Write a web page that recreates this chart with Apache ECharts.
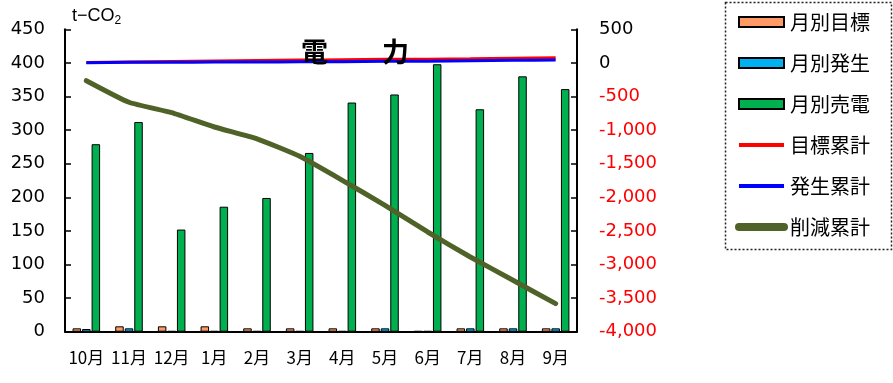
<!DOCTYPE html>
<html>
<head>
<meta charset="utf-8">
<script src="https://cdn.jsdelivr.net/npm/echarts@6/dist/echarts.min.js"></script>
<style>
  html, body { margin: 0; padding: 0; background: #fff; }
  #chart { width: 893px; height: 383px; }
</style>
</head>
<body>
<div id="chart"></div>
<script>
// Months of the fiscal year (October to September)
const categories = ['10月', '11月', '12月', '1月', '2月', '3月', '4月', '5月', '6月', '7月', '8月', '9月'];

// Monthly values, t-CO2 (left axis)
const monthlyTarget = [5, 8, 8, 8, 5, 5, 5, 5, 1, 5, 5, 5];
const monthlyGeneration = [4, 5, 1, 1, 1, 1, 1, 5, 1, 5, 5, 5];
const monthlySold = [279, 312, 152, 186, 199, 266, 341, 353, 398, 331, 380, 361];

// Cumulative values, t-CO2 (right axis)
const cumTarget = [5, 13, 21, 30, 36, 42, 48, 54, 56, 62, 70, 78];
const cumGeneration = [4, 9, 10, 12, 14, 16, 18, 24, 26, 32, 38, 44];
const cumReduction = [-265, -586, -740, -954, -1130, -1390, -1747, -2119, -2516, -2888, -3235, -3582];

// Axis ranges
const leftAxis = { min: 0, max: 450, interval: 50 };
const rightAxis = { min: -4000, max: 500, interval: 500 };

const FONT_NUM = 'DejaVu Sans';
const FONT_JP = 'Noto Sans CJK JP';

const chart = echarts.init(document.getElementById('chart'), null, { renderer: 'canvas' });

const barBorder = { borderColor: '#000', borderWidth: 1 };
// line legend entries: hide the marker dot, keep only the stroke
const noMarker = { color: 'rgba(0,0,0,0)', borderColor: 'rgba(0,0,0,0)', borderWidth: 0 };

chart.setOption({
  animation: false,
  backgroundColor: '#fff',
  title: {
    text: '電　　力',
    left: 350,
    top: 33,
    textAlign: 'center',
    textStyle: { fontFamily: FONT_JP, fontSize: 27, fontWeight: 'bold', color: '#000' }
  },
  grid: { left: 65, right: 316, top: 29.3, bottom: 51.3 },
  legend: {
    orient: 'vertical',
    left: 735,
    top: 12,
    padding: 0,
    itemWidth: 45,
    itemHeight: 10,
    itemGap: 21,
    selectedMode: false,
    textStyle: { fontFamily: FONT_JP, fontSize: 20, color: '#000', padding: [0, 0, 0, 1] },
    data: [
      { name: '月別目標', icon: 'rect' },
      { name: '月別発生', icon: 'rect' },
      { name: '月別売電', icon: 'rect' },
      { name: '目標累計', lineStyle: { width: 4 }, itemStyle: noMarker },
      { name: '発生累計', lineStyle: { width: 4 }, itemStyle: noMarker },
      { name: '削減累計', lineStyle: { width: 8, cap: 'round' }, itemStyle: noMarker }
    ]
  },
  graphic: [
    {
      type: 'rect',
      shape: { x: 725.5, y: 2.5, width: 166, height: 247 },
      style: { fill: 'none', stroke: '#222', lineWidth: 1.5, lineDash: [2, 2] },
      silent: true
    },
    {
      type: 'text',
      left: 72,
      top: 7,
      style: {
        text: '{a|t−CO}{b|2}',
        rich: {
          a: { fontFamily: 'Liberation Sans', fontSize: 18, color: '#000' },
          b: { fontFamily: 'Liberation Sans', fontSize: 12, color: '#000', padding: [10, 0, 0, 0] }
        }
      }
    }
  ],
  xAxis: {
    type: 'category',
    data: categories,
    axisLine: { lineStyle: { color: '#000', width: 2 } },
    axisTick: { inside: true, length: 5, lineStyle: { color: '#000', width: 1.5 } },
    axisLabel: { interval: 0, fontFamily: FONT_JP, fontSize: 17, color: '#000', margin: 17 }
  },
  yAxis: [
    {
      type: 'value',
      min: leftAxis.min,
      max: leftAxis.max,
      interval: leftAxis.interval,
      position: 'left',
      splitLine: { show: false },
      axisLine: { show: true, lineStyle: { color: '#000', width: 2 } },
      axisTick: { show: true, inside: true, length: 6, lineStyle: { color: '#000', width: 1.5 } },
      axisLabel: { fontFamily: FONT_NUM, fontSize: 18, color: '#000', margin: 20 }
    },
    {
      type: 'value',
      min: rightAxis.min,
      max: rightAxis.max,
      interval: rightAxis.interval,
      position: 'right',
      splitLine: { show: false },
      axisLine: { show: true, lineStyle: { color: '#000', width: 2 } },
      axisTick: { show: true, inside: true, length: 6, lineStyle: { color: '#000', width: 1.5 } },
      axisLabel: {
        fontFamily: FONT_NUM,
        fontSize: 18,
        margin: 22,
        formatter: v => Number(v).toLocaleString('en-US'),
        color: v => (Number(v) < 0 ? '#FF0000' : '#000')
      }
    }
  ],
  series: [
    {
      name: '月別目標', type: 'bar', yAxisIndex: 0, data: monthlyTarget,
      barWidth: 8.5, barGap: '12%',
      itemStyle: Object.assign({ color: '#FF9966' }, barBorder)
    },
    {
      name: '月別発生', type: 'bar', yAxisIndex: 0, data: monthlyGeneration,
      barWidth: 8.5, barGap: '12%',
      itemStyle: Object.assign({ color: '#00B0F0' }, barBorder)
    },
    {
      name: '月別売電', type: 'bar', yAxisIndex: 0, data: monthlySold,
      barWidth: 8.5, barGap: '12%',
      itemStyle: Object.assign({ color: '#00B050' }, barBorder)
    },
    {
      name: '目標累計', type: 'line', yAxisIndex: 1, data: cumTarget,
      symbol: 'none', smooth: 0.15, z: 3,
      lineStyle: { color: '#FF0000', width: 3 }, itemStyle: { color: '#FF0000' }
    },
    {
      name: '発生累計', type: 'line', yAxisIndex: 1, data: cumGeneration,
      symbol: 'none', smooth: 0.15, z: 4,
      lineStyle: { color: '#0000FF', width: 3 }, itemStyle: { color: '#0000FF' }
    },
    {
      name: '削減累計', type: 'line', yAxisIndex: 1, data: cumReduction,
      symbol: 'none', smooth: 0.15, z: 5,
      lineStyle: { color: '#4F6228', width: 5, cap: 'round' }, itemStyle: { color: '#4F6228' }
    }
  ]
});
</script>
</body>
</html>
